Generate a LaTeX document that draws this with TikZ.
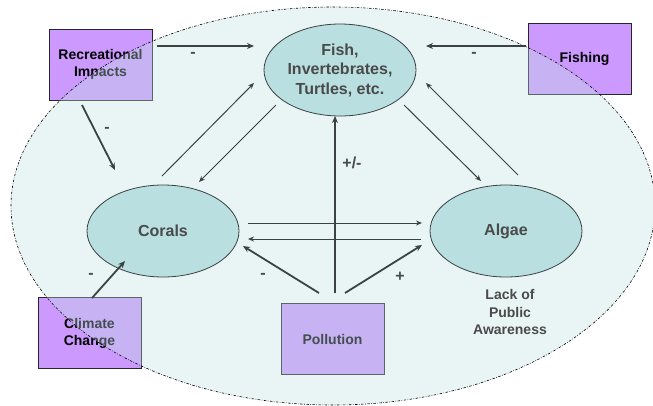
\documentclass[tikz,border=0pt]{standalone}
\usepackage{fontspec}
\setmainfont{Liberation Sans}
\usetikzlibrary{arrows.meta,shapes.geometric}
\definecolor{boxfill}{HTML}{CC99FF}
\definecolor{ovl}{RGB}{192,226,226}
\definecolor{ellfill}{HTML}{B9DFE0}
\definecolor{ink}{HTML}{3C4242}
\definecolor{txt}{HTML}{4A4A4A}
\begin{document}
\begin{tikzpicture}[x=1pt,y=-1pt,
  box/.style={draw=black!85, line width=1pt, fill=boxfill, minimum width=103pt, minimum height=71pt, inner sep=0pt, align=center, font=\bfseries\fontsize{14}{17}\selectfont},
  eco/.style={ellipse, draw=ink, line width=0.8pt, fill=ellfill, minimum width=152pt, minimum height=92pt, inner sep=0pt, align=center, text=txt, font=\bfseries\fontsize{16}{19.5}\selectfont},
  bigarr/.style={draw=ink, line width=1.8pt, -{Stealth[length=7pt,width=6pt]}},
  smallarr/.style={draw=ink, line width=1pt, -{Stealth[length=6pt,width=5pt]}},
  sign/.style={text=txt, inner sep=0pt, font=\bfseries\fontsize{16}{19}\selectfont},
  note/.style={text=txt, inner sep=0pt, align=center, font=\bfseries\fontsize{14}{17.5}\selectfont}]
\useasboundingbox (0,0) rectangle (653,405);
% boxes
\node[box] (rec) at (100.5,64.5) {Recreational\\Impacts};
\node[box] (fishing) at (579.5,59) {\hspace{10pt}Fishing};
\node[box] (climate) at (89.5,333) {Climate\\Change};
\node[box] (poll) at (332.5,339) {Pollution};
% big ecosystem ellipse overlay
\fill[ovl, fill opacity=0.35] (333,206) ellipse [x radius=322, y radius=199];
\draw[black, line width=0.6pt, dash pattern=on 2.5pt off 1.5pt on 0.6pt off 1.5pt] (333,206) ellipse [x radius=322, y radius=199];
% ecosystem components
\node[eco] (fish) at (340,70) {Fish,\\Invertebrates,\\Turtles, etc.};
\node[eco] (corals) at (163,231) {Corals};
\node[eco] (algae) at (506,231) {Algae};
\node[note] (lack) at (510,312) {Lack of\\Public\\Awareness};
% connector end points
\coordinate (r1) at (157,46);   \coordinate (f1) at (254,46);
\coordinate (g1) at (526,46);   \coordinate (f2) at (426,46);
\coordinate (r2) at (82,105);   \coordinate (c1) at (115,170);
\coordinate (c2) at (162,176);  \coordinate (f3) at (254,83);
\coordinate (f4) at (276,105);  \coordinate (c3) at (199,182);
\coordinate (f5) at (404,105);  \coordinate (a1) at (481,181);
\coordinate (a2) at (518,175);  \coordinate (f6) at (426,83);
\coordinate (c4) at (248,223);  \coordinate (a3) at (422,223);
\coordinate (a4) at (421,239);  \coordinate (c5) at (248,239);
\coordinate (p1) at (335,293);  \coordinate (f7) at (335,116);
\coordinate (p2) at (319,293);  \coordinate (c6) at (243,246);
\coordinate (p3) at (345,293);  \coordinate (a5) at (422,245);
\coordinate (k1) at (92,298);   \coordinate (c7) at (125,261);
% connectors
\draw[bigarr] (r1) -- (f1);
\draw[bigarr] (g1) -- (f2);
\draw[bigarr] (r2) -- (c1);
\draw[smallarr] (c2) -- (f3);
\draw[smallarr] (f4) -- (c3);
\draw[smallarr] (f5) -- (a1);
\draw[smallarr] (a2) -- (f6);
\draw[smallarr] (c4) -- (a3);
\draw[smallarr] (a4) -- (c5);
\draw[bigarr] (p1) -- (f7);
\draw[bigarr] (p2) -- (c6);
\draw[bigarr] (p3) -- (a5);
\draw[bigarr] (k1) -- (c7);
% signs
\node[sign] (s1) at (193,55) {-};
\node[sign] (s2) at (474,55) {-};
\node[sign] (s3) at (107,130) {-};
\node[sign] (s4) at (91,276) {-};
\node[sign] (s5) at (263,276) {-};
\node[sign] (s6) at (400,277) {+};
\node[sign] (s7) at (352,163) {+/-};
\end{tikzpicture}
\end{document}
